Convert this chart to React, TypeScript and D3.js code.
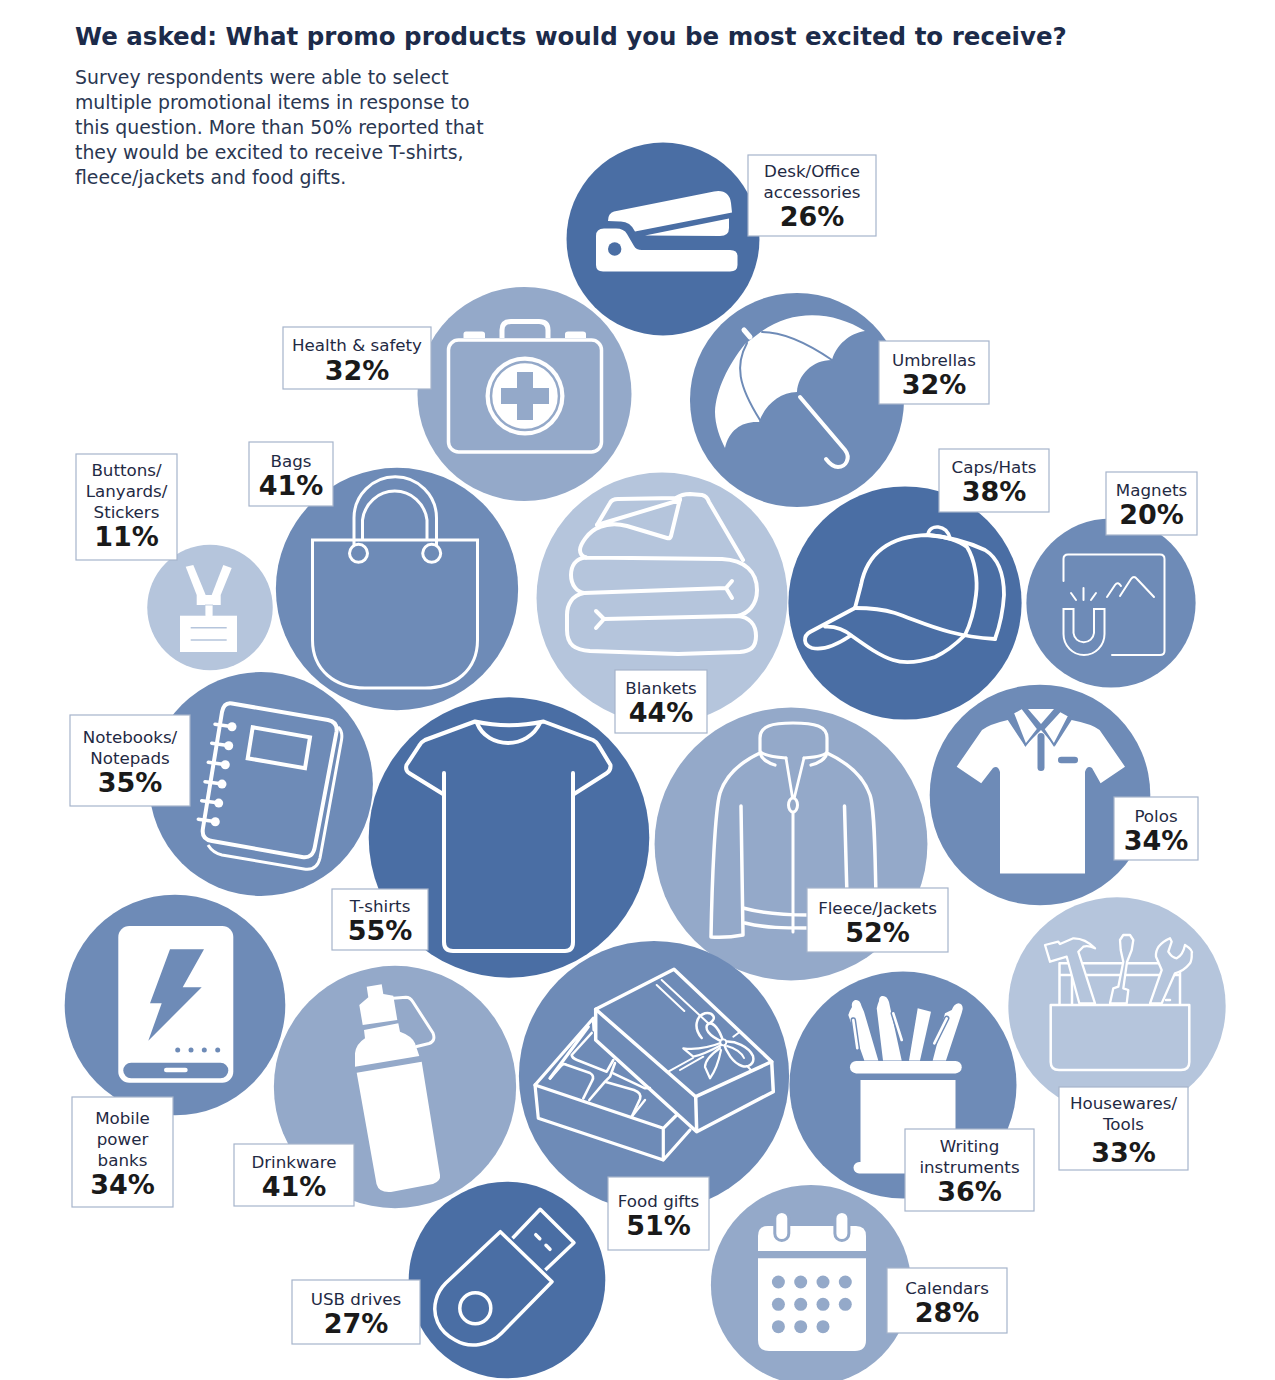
import React from 'react';
import * as d3 from 'd3';

const WIDTH = 1275;
const HEIGHT = 1380;

const categories = [
  'Desk/Office accessories', 'Health & safety', 'Umbrellas', 'Buttons/Lanyards/Stickers', 'Bags',
  'Blankets', 'Caps/Hats', 'Magnets', 'Notebooks/Notepads', 'T-shirts', 'Fleece/Jackets', 'Polos',
  'Mobile power banks', 'Drinkware', 'Food gifts', 'Writing instruments', 'Housewares/Tools',
  'USB drives', 'Calendars',
];
const values = [26, 32, 32, 11, 41, 44, 38, 20, 35, 55, 52, 34, 34, 41, 51, 36, 33, 27, 28];
const labelLines = [
  ['Desk/Office', 'accessories'], ['Health & safety'], ['Umbrellas'], ['Buttons/', 'Lanyards/', 'Stickers'], ['Bags'],
  ['Blankets'], ['Caps/Hats'], ['Magnets'], ['Notebooks/', 'Notepads'], ['T-shirts'], ['Fleece/Jackets'], ['Polos'],
  ['Mobile', 'power', 'banks'], ['Drinkware'], ['Food gifts'], ['Writing', 'instruments'], ['Housewares/', 'Tools'],
  ['USB drives'], ['Calendars'],
];

// hand placed bubble centres, same order as categories
const centers = [
  [663, 239], [524.5, 394], [797, 400], [210, 607.5], [397, 589], [662, 598], [905, 603], [1111, 603],
  [261, 784], [509, 837.5], [791, 844], [1040, 795], [175, 1005], [395, 1087], [654, 1076], [903, 1085],
  [1117, 1006], [507, 1280], [811, 1285],
];
// label boxes: x0, y0, x1, y1
const boxes = [
  [748, 155, 876, 236], [283, 327, 431, 389], [879, 341, 989, 404], [76, 454, 177, 560], [249, 442, 333, 506],
  [615, 670, 707, 733], [939, 449, 1049, 512], [1106, 472, 1197, 535], [70, 715, 190, 806], [332, 889, 428, 950],
  [807, 888, 948, 952], [1114, 797, 1198, 860], [72, 1097, 173, 1207], [234, 1144, 354, 1206], [608, 1177, 709, 1250],
  [905, 1129, 1034, 1211], [1059, 1087, 1188, 1170], [292, 1280, 420, 1344], [887, 1268, 1007, 1333],
];
// small vertical text corrections inside the boxes
const labelNudge = [-1, 0, 1, -3, 0, 0, 0, 0, 0, 0, 1, 1, 0, 0, 1, 0, -2, 0, 1];
const valueNudge = [0, 1, 0, 0, 0, 0, 0, 0, 0, 0, 0, 0, 0, 0, 0, 0, 4, 0, 0];
const shades = [0, 2, 1, 3, 1, 3, 0, 1, 1, 0, 2, 1, 1, 2, 1, 1, 3, 0, 2];
const palette = ['#4a6ea4', '#6e8bb7', '#94a9c9', '#b5c5dc'];

const titleText = 'We asked: What promo products would you be most excited to receive?';
const introLines = [
  'Survey respondents were able to select',
  'multiple promotional items in response to',
  'this question. More than 50% reported that',
  'they would be excited to receive T-shirts,',
  'fleece/jackets and food gifts.',
];

const FONT = '"DejaVu Sans", sans-serif';
const radius = d3.scaleSqrt().domain([0, 55]).range([0, 140.3]);

const Line = ({ d, w = 3.5, c = '#fff' }: { d: string; w?: number; c?: string }) => (
  <path d={d} fill="none" stroke={c} strokeWidth={w} strokeLinecap="round" strokeLinejoin="round" />
);

const icons: React.ReactNode[] = [
  // stapler
  <g fill="#fff">
    <path d="M608 221 Q608 213 614 211.500 L714 191.500 Q729 189 731 203 L732 212.500 L635 231.500 Q630 221 620 221.500 Z" />
    <path d="M645 235.500 L729 218.500 L729 228 Q729 236 720 236 Z" />
    <path d="M596 236 Q596 228.500 604 228.500 H616 Q624 228.500 627 234 L634 246 Q636 250 642 250 H730 Q737.500 250 737.500 256 V265 Q737.500 271.500 730 271.500 H603 Q596 271.500 596 265 Z" />
    <circle cx={614.7} cy={249} r={6.7} fill={palette[0]} />
  </g>,
  // first aid kit
  <g>
    <rect x={448.5} y={340} width={153} height={112} rx={10} fill="none" stroke="#fff" strokeWidth={3.5} />
    <path d="M502 338 V330 Q502 321.500 511 321.500 H539 Q548 321.500 548 330 V338" fill="none" stroke="#fff" strokeWidth={5} />
    <path d="M463.500 338 V334 Q463.500 331.500 466 331.500 H482 Q485 331.500 485 334 V338 Z" fill="#fff" />
    <path d="M565 338 V334 Q565 331.500 568 331.500 H583 Q586 331.500 586 334 V338 Z" fill="#fff" />
    <circle cx={525} cy={396} r={39.5} fill="#fff" />
    <circle cx={525} cy={396} r={34} fill="none" stroke={palette[2]} strokeWidth={2.5} />
    <path d="M517 372 H533 V388 H549 V404 H533 V420 H517 V404 H501 V388 H517 Z" fill={palette[2]} />
  </g>,
  // umbrella
  <g>
    <path d="M745 344 C728 365 716 390 715 412 C715 425 720 438 725 448 C729 430 742 421 759 422 C765 405 780 392 797 392 C798 375 812 360 832 360 C836 345 850 333 865 331 C835 312 795 308 762 331 Z" fill="#fff" />
    <Line d="M762 332 C785 332 810 345 832 360" w={2} c={palette[1]} />
    <Line d="M747 343 C735 365 738 385 760 420" w={2} c={palette[1]} />
    <Line d="M744 330 L750 337" w={5} />
    <path d="M800 397 L845 450 C851 458 846 467 838 467 C833 467 829 463 826 459" fill="none" stroke="#fff" strokeWidth={4} strokeLinecap="round" />
  </g>,
  // lanyard
  <g fill="#fff">
    <path d="M185.700 566.700 L193.300 565 L205.700 595 H196.700 Z" />
    <path d="M223.300 565 L231.700 568 L220.700 595 H211.700 Z" />
    <rect x={196.7} y={595} width={24} height={10} />
    <path d="M205 605 H213 V615 Q213 620 209 620 Q205 620 205 615 Z" stroke={palette[3]} strokeWidth={0.8} />
    <rect x={180} y={615.7} width={57} height={36.3} />
    <path d="M190.700 627.700 H226.700 M190.700 640 H226.700" stroke={palette[3]} strokeWidth={1.5} />
  </g>,
  // tote bag
  <g fill="none" stroke="#fff" strokeWidth={3}>
    <path d="M312.500 540 H477.500 V640 C477.500 670 455 688 425 688 H365 C335 688 312.500 670 312.500 640 Z" />
    <path d="M354 546 V518 A41 41 0 0 1 436.500 518 V546" />
    <path d="M362.500 540 V520 A32.500 33 0 0 1 427 520 V540" />
    <circle cx={358.5} cy={553.3} r={9} />
    <circle cx={431.7} cy={553.3} r={9} />
  </g>,
  // folded blankets
  <g>
    <Line d="M597 525 L610 503 Q612 499 618 499 L676 498 Q682 494 690 494 L702 495 Q707 496 709 502 L743 560" w={4} />
    <Line d="M597 525 L680 500 M680 499 L671 536 Q670 539 667 538 L627 526 Q612 522 600 527 C588 531 580 545 580 550 Q580 556 586 557.500" w={4} />
    <Line d="M586 557.500 L722 559 C745 560 757 572 757 590 C757 605 748 614 737 616 M586 557.500 C575 558 571 567 571 575 C571 585 577 592 584 593" w={4} />
    <Line d="M584 593 L726 588 M732 581 L726 588 L732 598" w={4} />
    <Line d="M584 593 C572 595 567 605 567 615 V630 C567 645 575 650 590 651 L678 654 L740 652 C750 651 756 648 756 636 C756 625 750 617 737 616 L604 619 M596 611 L604 619 L596 628" w={4} />
  </g>,
  // cap
  <g>
    <Line d="M855 608 L861 585 C867 553 890 536 928 535 C945 536 960 541 967 547 C975 560 978 580 976 595 C974 612 970 625 965 635" w={3.8} />
    <Line d="M928 535 C950 537 970 543 985 550 C998 558 1004 575 1004 595 C1003 612 999 628 995 639" w={3.8} />
    <Line d="M855 608 C870 608 882 609 895 613 C915 620 930 627 950 632 C965 636 980 638 995 639" w={3.8} />
    <Line d="M928 534 C930 524 946 524 950 538" w={3.5} />
    <Line d="M855 608 L810 632 C803 636 803 645 812 648 C820 650 832 648 850 636" w={3.8} />
    <Line d="M825 626.700 C838 626 846 631 852 636 C866 646 880 656 893 660 C905 664 920 662 935 657 C948 651 958 642 965 635" w={3.8} />
  </g>,
  // magnet on a board
  <g>
    <Line d="M1063.500 581 V559 Q1063.500 554.500 1068 554.500 H1160 Q1164.500 554.500 1164.500 559 V651 Q1164.500 655 1160 655 H1112" w={2} />
    <path d="M1063.500 609 H1073.500 V633 A10.300 10.300 0 0 0 1094 633 V609 H1104.500 V634 A20.500 21 0 0 1 1063.500 634 Z" fill="none" stroke="#fff" strokeWidth={2} />
    <Line d="M1071 593 L1076 600 M1083.500 588 V600 M1096 593 L1091 600" w={2} />
    <Line d="M1107 597 L1115 585 Q1118 581 1121 586" w={2} />
    <Line d="M1120 596 L1131 579 Q1134 575 1137 579 L1154 597" w={2} />
  </g>,
  // notebook
  <g fill="none" stroke="#fff">
    <path d="M232 703.500 L328 720 Q338 722 336.500 732 L315 846 Q313 859 302 857 L212 841 Q201 839 203 828 L222 712 Q224 702 232 703.500 Z" strokeWidth={4} />
    <path d="M338 727 Q343 731 341.500 740 L320 858 Q317 871 304 869 L222 855 Q213 853 208 845" strokeWidth={3} />
    <path d="M252.700 727.300 L310 737.300 L305 768.300 L247.700 758.300 Z" strokeWidth={4} />
    {[[215, 724.3], [211.7, 743.3], [208.3, 762.3], [205, 781.7], [201.7, 800.7], [198.3, 819.3]].map(([x, y]) => (
      <g key={y}>
        <line x1={x} y1={y} x2={x + 18} y2={y + 2.4} strokeWidth={3.5} strokeLinecap="round" />
        <circle cx={x + 17} cy={y + 2.4} r={4.5} fill="#fff" stroke="none" />
      </g>
    ))}
  </g>,
  // t-shirt
  <g>
    <Line d="M475 721.500 Q509 729 543.500 721.500" w={4} />
    <Line d="M477 723 C482 736 495 743 508 743 C521 743 534 736 540 723" w={4} />
    <path d="M475 721.500 L425 740 Q421 742 419 746 L406.500 765 Q405 770 409 773 L443 794" fill="none" stroke="#fff" strokeWidth={4} strokeLinejoin="round" />
    <path d="M543.500 721.500 L593 740 Q597 742 599 746 L610.500 765 Q611 770 607 773 L574 794" fill="none" stroke="#fff" strokeWidth={4} strokeLinejoin="round" />
    <Line d="M444 773 V942 Q444 951 453 951 H565 Q573 951 573 942 V773" w={4} />
  </g>,
  // fleece jacket
  <g>
    <Line d="M760 751 V738 C760 726 772 723 793 723 C815 723 827 726 827 738 V751 C827 755 818 757 804 758 M760 751 C762 755 772 757 786 758" w={3.2} />
    <Line d="M786 758 L792.400 797 M804 758 L794.500 797" w={2.8} />
    <ellipse cx={793} cy={805} rx={4.5} ry={7} fill="none" stroke="#fff" strokeWidth={3} />
    <Line d="M793 813 V932" w={3} />
    <Line d="M760 753 C745 760 727 772 720 793 C715 810 712 880 711 937 Q727 938 743 935 L741 806" w={3.5} />
    <Line d="M760 753 C762 760 768 763 775 765 M827 753 C825 760 819 763 811 765" w={3.2} />
    <Line d="M827 753 C842 760 862 772 870 795 C875 810 875 860 876 896 M844.500 806 L847 896" w={3.5} />
    <Line d="M743 908 C765 914 785 915 808 915 M745 923 C765 928 785 928 808 928" w={3.5} />
  </g>,
  // polo shirt
  <g>
    <path d="M956.700 766.700 L982 730 Q990 724 1007.800 720 L1025 746 L1041 730 L1055 746 L1071.600 720 Q1092 724 1099.600 730 L1125 766.700 L1100.600 783.300 L1092 768 Q1087 765 1085 772 V873.500 H1000 V772 Q998 765 993 768 L981.200 783.300 Z" fill="#fff" />
    <path d="M1013 713 L1022 708 L1038 729 L1025.600 745 Z" fill="#fff" stroke={palette[1]} strokeWidth={2} />
    <path d="M1060 711 L1069 716 L1054 745 L1043.500 729 Z" fill="#fff" stroke={palette[1]} strokeWidth={2} />
    <path d="M1028 709 H1054 L1041 724 Z" fill="#fff" />
    <rect x={1037.5} y={733} width={7} height={38} rx={3.5} fill={palette[1]} />
    <rect x={1058} y={756.7} width={20} height={6.6} rx={3.3} fill={palette[1]} />
  </g>,
  // power bank
  <g>
    <rect x={118.3} y={926} width={115} height={156.7} rx={11} fill="#fff" />
    <path d="M170 949.300 H204 L182.700 987.300 H201.700 L148.300 1040.700 L161.700 1003.300 H150 Z" fill={palette[1]} />
    {[177.7, 191, 204.3, 217.7].map(x => <circle key={x} cx={x} cy={1050} r={2.5} fill={palette[1]} />)}
    <rect x={123.3} y={1062.7} width={105} height={15.6} rx={7.8} fill={palette[1]} />
    <rect x={164} y={1067.7} width={23.7} height={4.6} rx={2.3} fill="#fff" />
  </g>,
  // water bottle
  <g>
    <path d="M356.700 1072.700 L421.700 1061.700 L440 1175 Q441 1181 433 1184 L391 1192 Q379 1193 376.500 1184 Z" fill="#fff" />
    <path d="M355 1066.700 V1053.300 Q356 1044 365 1038.300 L364 1030 L398.300 1023.300 L400 1031.700 Q412 1036 415 1043.300 L419.300 1056 Z" fill="#fff" />
    <path d="M362.700 1025 L359.300 1005 L368.300 997.300 L366.700 986.700 L381.700 984.300 L383.300 994 L393.300 995.700 L397.300 1020 Z" fill="#fff" />
    <Line d="M393.300 998.300 L406 997.300 Q410 997.300 413 1002 L433 1033 Q436 1041 429 1043.500 L416.700 1046.500" w={3} />
  </g>,
  // gift box
  <g>
    <Line d="M595.700 1009.300 L674 969.300 L771.700 1061.700 L695.700 1096.700 Z" w={3.5} />
    <Line d="M595.700 1009.300 V1040 L696.700 1131.700 L773.300 1091.700 L771.700 1061.700 M695.700 1096.700 L696.700 1131.700" w={3.5} />
    <Line d="M656.700 985 L684.300 1011 M661.700 980 L708 1023" w={2} />
    <Line d="M668.300 1071.700 L693 1058 M680 1070 L703.300 1056.700 M733.300 1036.700 L740 1031.700 M747 1066 L751 1070" w={2} />
    <Line d="M723.300 1042 C720 1030 713 1021 708 1024 C704 1028 708 1036 723.300 1042" w={2.5} />
    <Line d="M710 1023 C718 1018 712 1012 705 1013.300 C696 1016 693 1028 701.700 1038" w={2.5} />
    <Line d="M723.300 1042 C735 1040 749 1047 753 1056 C755 1064 748 1068 742 1066 C733 1063 726 1052 723.300 1042" w={2.5} />
    <Line d="M727 1046 C735 1048 742 1053 744 1058" w={2} />
    <Line d="M723.300 1042 C708 1048 696 1050 683.300 1048.300 L693.300 1056.700 C703 1055 712 1050 723.300 1044" w={2.2} />
    <Line d="M720 1048 C710 1055 705 1062 705 1067 L710 1078.300 C716 1070 719 1060 721 1050" w={2.2} />
    <circle cx={723.3} cy={1042.3} r={3} fill={palette[1]} stroke="#fff" strokeWidth={1.8} />
    <Line d="M535 1085 L538.300 1118.300 L663.300 1160 V1128.300 Z M663.300 1160 L690 1130 M663.300 1128.300 L676.700 1115" w={3.2} />
    <Line d="M535 1085 L593.300 1018.300 L594 1030 M550 1078.300 L588.300 1026.700" w={3.2} />
    <Line d="M571.700 1055 L591.700 1033 M571.700 1055 Q572 1058 577 1060 L606.700 1071.700 L613.300 1060" w={2.6} />
    <Line d="M550 1078.300 L561 1066 Q563 1063 567 1065 L590 1073 Q595 1076 592 1081 L583.300 1098.300" w={2.6} />
    <Line d="M589.300 1100 L605 1081.700 L610 1076.700 L615 1063 M605 1081.700 L634 1090 Q642 1093 640 1099 L631.700 1116.700" w={2.6} />
    <Line d="M613.300 1073.300 L645 1088.300 L650 1088 M645 1100 L631.700 1116.700" w={2.4} />
  </g>,
  // pens in a cup
  <g fill="#fff">
    <rect x={850} y={1061} width={111.7} height={12.4} rx={6.2} />
    <rect x={860.5} y={1080} width={95} height={93} />
    <rect x={853.5} y={1162} width={60} height={11.5} rx={5.7} />
    <path d="M855 1000 Q860 999 861.500 1006 L864 1011.700 L878.300 1060.500 H864.300 L848.300 1015 Q850 1010 852 1007 Q851 1002 855 1000 Z" />
    <path d="M881.700 996 Q887 995 889 1002 L890 1006.700 L901.700 1060.500 H883 L876.700 1008.300 Q878 1003 879 1001 Q879 997 881.700 996 Z" />
    <path d="M917.700 1008.300 L931 1011.700 L920 1060.500 H909 Z" />
    <path d="M958.300 1003.300 Q963 1004 962.700 1009 L961.700 1013 L946 1060.500 H932.700 L945 1013.300 L951.700 1010 Q954 1004 958.300 1003.300 Z" />
    <Line d="M853.300 1020 L857.300 1048.300" w={5.5} c={palette[1]} />
    <Line d="M853.300 1020 L857.300 1048.300" w={2.6} />
    <Line d="M893.300 1013.300 L901.700 1040" w={5.5} c={palette[1]} />
    <Line d="M893.300 1013.300 L901.700 1040" w={2.6} />
    <Line d="M946.700 1018.300 L934.300 1043.300" w={5.5} c={palette[1]} />
    <Line d="M946.700 1018.300 L934.300 1043.300" w={2.6} />
  </g>,
  // tool pot
  <g strokeLinejoin="round">
    <path d="M1050.700 1005 H1189.300 V1062 Q1189.300 1070 1181 1070 H1059 Q1050.700 1070 1050.700 1062 Z" fill="none" stroke="#fff" strokeWidth={2.5} />
    <Line d="M1060 963.300 H1180 M1060 975 H1180 M1059.500 963.300 V1004 M1180 963.300 V1004 M1072 975 V1004 M1166 1000 H1170" w={2.5} />
    <path d="M1045 945 L1058.300 941.700 L1060 944 L1073.300 938.300 Q1085 938 1095 948.300 Q1088 945 1083.300 946.700 L1078.300 951.700 L1095 1003.300 H1079.300 L1066.700 956.700 L1050 961.700 Z" fill={palette[3]} stroke="#fff" strokeWidth={2.3} />
    <path d="M1120 940 L1123.300 935 H1130 L1133.300 940 L1131.700 950 L1127 962 L1123.300 988.300 L1128.300 990 L1126.700 1003.300 H1110 L1113.300 988.300 L1118.300 986.700 L1123.300 961.700 L1120.700 950 Z" fill={palette[3]} stroke="#fff" strokeWidth={2.3} />
    <path d="M1150 1003.300 L1161.700 970 L1156 956.700 Q1155 945 1170 938.300 L1171.700 941.700 L1168.300 951.700 Q1172 958 1176.700 958.300 Q1183 955 1185 945 Q1193 950 1191.700 953.300 Q1192 960 1190 963.300 Q1184 971 1175 973.300 L1161.700 1003.300 Z" fill={palette[3]} stroke="#fff" strokeWidth={2.3} />
  </g>,
  // usb stick
  <g>
    <path d="M500.300 1231.700 L552 1281.700 L501.400 1333.300 C490 1345 470 1349 455 1340 C438 1331 432 1315 436 1300 C438 1292 441 1288 445.600 1283.300 Z" fill="none" stroke="#fff" strokeWidth={3.5} strokeLinejoin="round" />
    <path d="M512.500 1238.300 L540.200 1209.300 L574 1242.700 L545.300 1270" fill="none" stroke="#fff" strokeWidth={3.5} strokeLinejoin="round" />
    <Line d="M535.800 1234.700 L539.800 1238.700 M546 1245.300 L550 1249.300" w={3.5} />
    <circle cx={475.3} cy={1308.3} r={15.5} fill="none" stroke="#fff" strokeWidth={3.5} />
  </g>,
  // calendar
  <g>
    <path d="M758 1251 V1236 Q758 1226 768 1226 H856 Q866 1226 866 1236 V1251 Z" fill="#fff" />
    <path d="M758 1258.300 H866 V1340 Q866 1351 855 1351 H769 Q758 1351 758 1340 Z" fill="#fff" />
    {[781.8, 841.9].map(x => (
      <rect key={x} x={x - 7} y={1211.5} width={14} height={29} rx={7} fill="#fff" stroke={palette[2]} strokeWidth={3} />
    ))}
    {[1282, 1304.3, 1326.7].flatMap((y, row) =>
      [778.4, 800.7, 823, 845.3].slice(0, row === 2 ? 3 : 4).map(x => (
        <circle key={`${x}-${y}`} cx={x} cy={y} r={6.5} fill={palette[2]} />
      ))
    )}
  </g>,
];

export default function App() {
  return (
    <svg
      width={WIDTH}
      height={HEIGHT}
      viewBox={`0 0 ${WIDTH} ${HEIGHT}`}
      style={{ position: 'absolute', left: 0, top: 0, display: 'block', background: '#fff' }}
      fontFamily={FONT}
    >
      <text x={75} y={45} fontSize={24.5} fontWeight="bold" fill="#1c2b4a">{titleText}</text>
      {introLines.map((t, i) => (
        <text key={t} x={75} y={84 + i * 25} fontSize={18.85} fill="#2a3752">{t}</text>
      ))}

      {categories.map((c, i) => (
        <circle key={c} cx={centers[i][0]} cy={centers[i][1]} r={radius(values[i])} fill={palette[shades[i]]} />
      ))}
      {icons.map((icon, i) => <g key={categories[i]}>{icon}</g>)}

      {categories.map((c, i) => {
        const [x0, y0, x1, y1] = boxes[i];
        const lines = labelLines[i];
        const mid = (x0 + x1) / 2;
        const block = lines.length * 21 + 28;
        const first = y0 + (y1 - y0 - block) / 2 + 17 + labelNudge[i];
        return (
          <g key={c} textAnchor="middle">
            <rect x={x0} y={y0} width={x1 - x0} height={y1 - y0} fill="#fff" stroke="#a6b4cb" strokeWidth={1.2} />
            {lines.map((l, k) => (
              <text key={l} x={mid} y={first + k * 21} fontSize={16.7} fill="#1f2a44">{l}</text>
            ))}
            <text x={mid} y={first + (lines.length - 1) * 21 + 28 + valueNudge[i]} fontSize={27} fontWeight="bold" fill="#1a1a1a">
              {`${values[i]}%`}
            </text>
          </g>
        );
      })}
    </svg>
  );
}
